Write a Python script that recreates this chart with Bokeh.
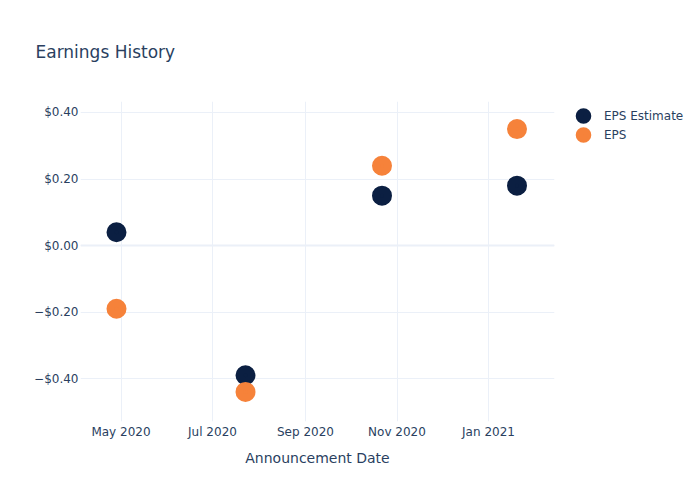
from datetime import datetime
from bokeh.plotting import figure
from bokeh.models import (Range1d, FixedTicker, MonthsTicker, DatetimeTickFormatter,
                          Legend, LegendItem, Span, ColumnDataSource)
from bokeh.embed import file_html
from bokeh.resources import INLINE

dates = ["2020-04-28", "2020-07-23", "2020-10-22", "2021-01-20"]
eps_estimate = [0.04, -0.39, 0.15, 0.18]
eps_actual = [-0.19, -0.44, 0.24, 0.35]
y_ticks = [-0.4, -0.2, 0.0, 0.2, 0.4]
y_tick_labels = ["\u2212$0.40", "\u2212$0.20", "$0.00", "$0.20", "$0.40"]
series_names = ["EPS Estimate", "EPS"]
series_colors = ["#0b1f42", "#f6823a"]

xs = [datetime.strptime(d, "%Y-%m-%d") for d in dates]
FONT = "DejaVu Sans"
TXT = "#2a3f5f"
GRID = "#ebf0f8"

p = figure(frame_width=474, frame_height=320, x_axis_type="datetime", output_backend="svg",
           toolbar_location=None,
           x_range=Range1d(datetime(2020, 4, 4), datetime(2021, 2, 14)),
           y_range=Range1d(-0.529, 0.433),
           min_border_left=80, min_border_right=20, min_border_top=100, min_border_bottom=80)
p.background_fill_color = "white"
p.border_fill_color = "white"
p.outline_line_color = None

p.title.text = "Earnings History"
p.title.text_font = FONT
p.title.text_font_size = "17px"
p.title.text_font_style = "normal"
p.title.text_color = TXT
p.title.offset = -45
p.title.standoff = 79

src_e = ColumnDataSource(dict(x=xs, y=eps_estimate))
src_a = ColumnDataSource(dict(x=xs, y=eps_actual))
# size 12 + outline 8 gives a 20px dot; the legend dot becomes ~16px
r1 = p.scatter("x", "y", source=src_e, size=12, color=series_colors[0],
               line_color=series_colors[0], line_width=8)
r2 = p.scatter("x", "y", source=src_a, size=12, color=series_colors[1],
               line_color=series_colors[1], line_width=8)

p.add_layout(Span(location=0, dimension="width", line_color=GRID, line_width=2), "center")

for ax in (p.xaxis[0], p.yaxis[0]):
    ax.axis_line_color = None
    ax.major_tick_line_color = None
    ax.minor_tick_line_color = None
    ax.major_tick_out = 0
    ax.major_tick_in = 0
    ax.minor_tick_out = 0
    ax.major_label_text_font = FONT
    ax.major_label_text_font_size = "12px"
    ax.major_label_text_color = TXT

p.yaxis[0].ticker = FixedTicker(ticks=y_ticks)
p.yaxis[0].major_label_overrides = {t: l for t, l in zip(y_ticks, y_tick_labels)}
p.yaxis[0].major_label_standoff = 2

p.xaxis[0].ticker = MonthsTicker(months=[0, 2, 4, 6, 8, 10])
p.xaxis[0].formatter = DatetimeTickFormatter(months="%b %Y", days="%b %Y")
p.xaxis[0].major_label_standoff = 3
p.xaxis[0].axis_label = "Announcement Date"
p.xaxis[0].axis_label_text_font = FONT
p.xaxis[0].axis_label_text_font_size = "14px"
p.xaxis[0].axis_label_text_font_style = "normal"
p.xaxis[0].axis_label_text_color = TXT
p.xaxis[0].axis_label_standoff = 8

p.xgrid.grid_line_color = GRID
p.ygrid.grid_line_color = GRID
p.xgrid.ticker = p.xaxis[0].ticker
p.ygrid.ticker = p.yaxis[0].ticker

legend = Legend(items=[LegendItem(label=n, renderers=[r]) for n, r in zip(series_names, [r1, r2])],
                location=(19, 277), border_line_color=None, background_fill_alpha=0,
                label_text_font=FONT, label_text_font_size="12px", label_text_color=TXT,
                glyph_height=19, glyph_width=20, label_height=19, spacing=0, padding=0,
                margin=0, label_standoff=11)
p.add_layout(legend, "right")

open("out.html", "w").write(file_html(p, INLINE))
